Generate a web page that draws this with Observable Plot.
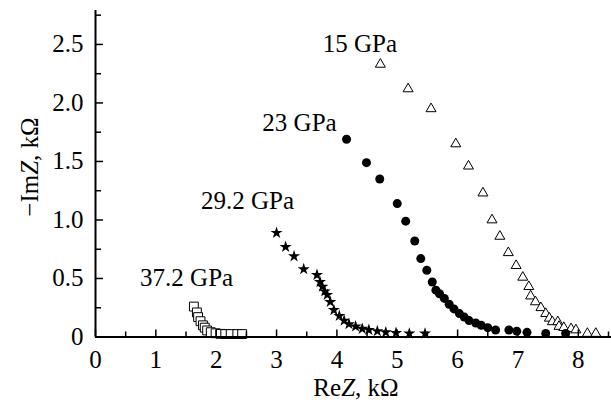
<!DOCTYPE html>
<html>
<head>
<meta charset="utf-8">
<script src="https://cdn.jsdelivr.net/npm/d3@7"></script>
<script src="https://cdn.jsdelivr.net/npm/@observablehq/plot@0.6"></script>
<style>
  html, body { margin: 0; padding: 0; background: #fff; }
  #chart { width: 611px; height: 400px; }
</style>
</head>
<body>
<div id="chart"></div>
<script>
// ---- data (ReZ, kΩ ; -ImZ, kΩ) ----
const p15_x = [4.72, 5.18, 5.56, 5.97, 6.18, 6.42, 6.57, 6.70, 6.84, 6.97, 7.08, 7.18, 7.21, 7.29, 7.38, 7.46, 7.52, 7.57, 7.66, 7.68, 7.76, 7.88, 7.96, 8.15, 8.29];
const p15_y = [2.33, 2.12, 1.95, 1.65, 1.46, 1.23, 1.00, 0.86, 0.72, 0.61, 0.51, 0.43, 0.35, 0.30, 0.25, 0.20, 0.16, 0.13, 0.13, 0.09, 0.08, 0.07, 0.06, 0.03, 0.03];

const p23_x = [4.16, 4.49, 4.71, 5.00, 5.14, 5.29, 5.39, 5.49, 5.58, 5.64, 5.70, 5.78, 5.86, 5.94, 6.03, 6.11, 6.19, 6.30, 6.39, 6.50, 6.63, 6.85, 6.98, 7.15, 7.46, 7.79];
const p23_y = [1.69, 1.49, 1.35, 1.14, 0.99, 0.82, 0.67, 0.57, 0.47, 0.40, 0.37, 0.33, 0.28, 0.24, 0.20, 0.17, 0.14, 0.12, 0.10, 0.08, 0.06, 0.06, 0.05, 0.04, 0.03, 0.03];

const p29_x = [3.00, 3.15, 3.29, 3.45, 3.67, 3.72, 3.76, 3.80, 3.84, 3.89, 3.95, 4.04, 4.12, 4.20, 4.31, 4.42, 4.53, 4.67, 4.81, 4.98, 5.20, 5.46];
const p29_y = [0.89, 0.77, 0.69, 0.58, 0.53, 0.47, 0.43, 0.39, 0.36, 0.30, 0.23, 0.18, 0.14, 0.11, 0.09, 0.07, 0.06, 0.05, 0.04, 0.035, 0.03, 0.03];

const p37_x = [1.63, 1.68, 1.70, 1.74, 1.78, 1.81, 1.85, 1.91, 1.99, 2.07, 2.15, 2.24, 2.35, 2.43];
const p37_y = [0.26, 0.21, 0.17, 0.135, 0.10, 0.08, 0.056, 0.041, 0.032, 0.027, 0.025, 0.025, 0.025, 0.025];

const seriesNames = ["15 GPa", "23 GPa", "29.2 GPa", "37.2 GPa"];

const xTicks = [0, 1, 2, 3, 4, 5, 6, 7, 8];
const xMinorTicks = [0.5, 1.5, 2.5, 3.5, 4.5, 5.5, 6.5, 7.5, 8.5];
const yTicks = [0, 0.5, 1.0, 1.5, 2.0, 2.5];
const yMinorTicks = [0.25, 0.75, 1.25, 1.75, 2.25, 2.75];

const zip = (xs, ys) => xs.map((x, i) => ({x, y: ys[i]}));
const d15 = zip(p15_x, p15_y);
const d23 = zip(p23_x, p23_y);
const d29 = zip(p29_x, p29_y);
const d37 = zip(p37_x, p37_y);

// ---- layout ----
const W = 611, H = 400;
const mL = 95, mR = 0, mT = 10, mB = 63.5;
const xMax = 8.55, yMax = 2.79;
const pxX = (W - mL - mR) / xMax;
const pxY = (H - mT - mB) / yMax;
const FONT = "'Liberation Serif', 'Times New Roman', serif";
const FS = 25;

const chart = Plot.plot({
  width: W, height: H,
  marginLeft: mL, marginRight: mR, marginTop: mT, marginBottom: mB,
  style: {fontFamily: FONT, fontSize: FS + "px", background: "white", color: "black"},
  x: {domain: [0, xMax]},
  y: {domain: [0, yMax]},
  marks: [
    // data
    Plot.dot(d15, {x: "x", y: "y", symbol: "triangle", r: 3.7, fill: "white", stroke: "black", strokeWidth: 1}),
    Plot.dot(d23, {x: "x", y: "y", symbol: "circle", r: 4.5, fill: "black", stroke: "none"}),
    Plot.dot(d29, {x: "x", y: "y", symbol: "star", r: 3.8, fill: "black", stroke: "none"}),
    Plot.dot(d37, {x: "x", y: "y", symbol: "square", r: 5, fill: "white", stroke: "black", strokeWidth: 1}),
    // series labels
    Plot.text([seriesNames[0]], {x: 4.38, y: 2.50, text: d => d, fontSize: FS, fill: "black"}),
    Plot.text([seriesNames[1]], {x: 3.38, y: 1.83, text: d => d, fontSize: FS, fill: "black"}),
    Plot.text([seriesNames[2]], {x: 2.52, y: 1.166, text: d => d, fontSize: FS, fill: "black"}),
    Plot.text([seriesNames[3]], {x: 1.51, y: 0.508, text: d => d, fontSize: FS, fill: "black"}),
    // inward ticks
    Plot.ruleX(xTicks, {x: d => d, y1: 0, y2: 7 / pxY, stroke: "black", strokeWidth: 1.5}),
    Plot.ruleX(xMinorTicks, {x: d => d, y1: 0, y2: 5 / pxY, stroke: "black", strokeWidth: 1.5}),
    Plot.ruleY(yTicks, {y: d => d, x1: 0, x2: 8 / pxX, stroke: "black", strokeWidth: 1.5}),
    Plot.ruleY(yMinorTicks, {y: d => d, x1: 0, x2: 6 / pxX, stroke: "black", strokeWidth: 1.5}),
    // axis lines
    Plot.ruleY([0], {x1: 0, x2: xMax, stroke: "black", strokeWidth: 2}),
    Plot.ruleX([0], {y1: 0, y2: yMax, stroke: "black", strokeWidth: 2}),
    // tick labels
    Plot.axisX(xTicks, {tickSize: 0, tickPadding: 13, fontSize: FS, label: null, tickFormat: d => String(d)}),
    Plot.axisY(yTicks, {tickSize: 0, tickPadding: 12, fontSize: FS, label: null, tickFormat: d => d === 0 ? "0" : d.toFixed(1)})
  ]
});

document.getElementById("chart").appendChild(chart);

// axis titles with italic Z
const svg = d3.select(chart);
const xt = svg.append("text")
  .attr("x", 356).attr("y", 396)
  .attr("text-anchor", "middle")
  .attr("font-family", FONT).attr("font-size", FS).attr("fill", "black");
xt.append("tspan").text("Re");
xt.append("tspan").attr("font-style", "italic").text("Z");
xt.append("tspan").text(", kΩ");

const yt = svg.append("text")
  .attr("transform", "translate(38,167) rotate(-90)")
  .attr("text-anchor", "middle")
  .attr("font-family", FONT).attr("font-size", FS).attr("fill", "black");
yt.append("tspan").text("−Im");
yt.append("tspan").attr("font-style", "italic").text("Z");
yt.append("tspan").text(", kΩ");
</script>
</body>
</html>
